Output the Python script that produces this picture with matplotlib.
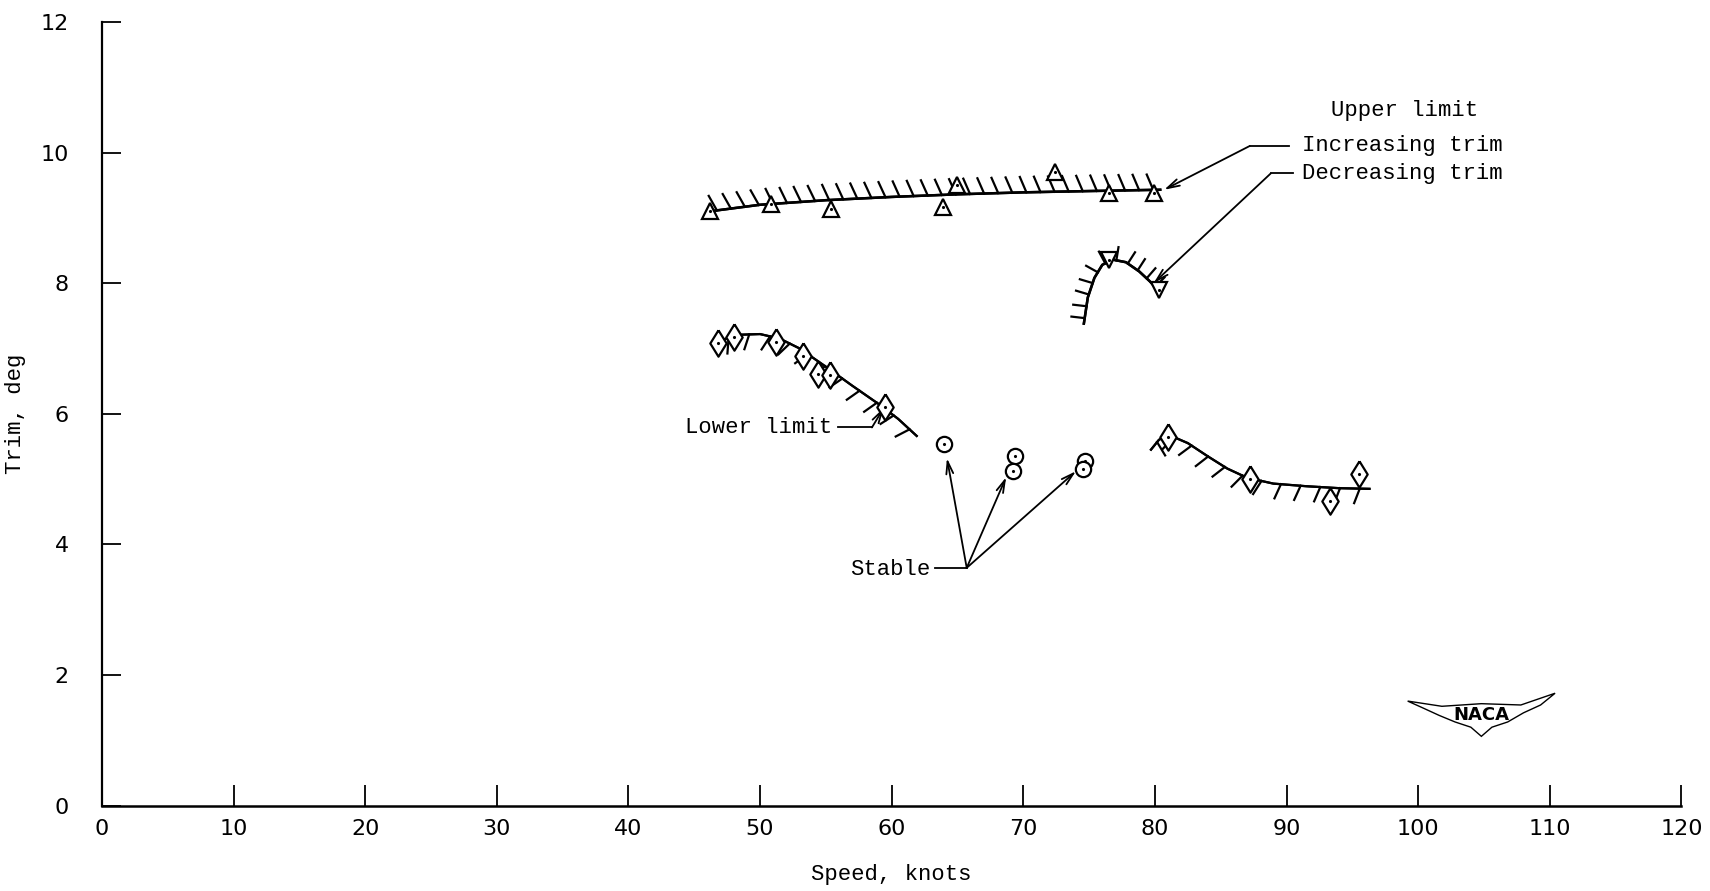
import matplotlib
matplotlib.use('Agg')
import matplotlib.pyplot as plt
from matplotlib import patheffects
from matplotlib.patches import Polygon

plt.rcParams['font.family'] = ['DejaVu Sans']
MONO = 'Liberation Mono'

# upper limit, increasing trim (triangles)
inc_x = [46.2, 50.8, 55.4, 63.9, 65.0, 72.4, 76.5, 79.9]
inc_y = [9.11, 9.21, 9.14, 9.16, 9.51, 9.70, 9.38, 9.38]
inc_curve_x = [46.2, 50, 55, 60, 65, 70, 75, 80.4]
inc_curve_y = [9.10, 9.20, 9.27, 9.32, 9.36, 9.39, 9.41, 9.43]

# upper limit, decreasing trim (inverted triangles)
dec_x = [76.5, 80.3]
dec_y = [8.36, 7.89]
dec_curve_x = [74.6, 74.9, 75.4, 76.0, 76.8, 77.8, 78.8, 79.6, 80.3]
dec_curve_y = [7.38, 7.78, 8.08, 8.28, 8.36, 8.32, 8.18, 8.03, 7.88]

# lower limit (diamonds)
low_x = [46.8, 48.0, 51.2, 53.3, 54.4, 55.3, 59.5, 81.0, 87.2, 93.3, 95.5]
low_y = [7.08, 7.18, 7.10, 6.88, 6.61, 6.59, 6.11, 5.65, 5.00, 4.66, 5.07]
low1_curve_x = [46.9, 48.5, 50.0, 51.5, 53.0, 55.0, 57.0, 59.0, 60.5, 61.9]
low1_curve_y = [7.12, 7.21, 7.22, 7.15, 7.00, 6.72, 6.43, 6.15, 5.92, 5.66]
low2_curve_x = [79.7, 80.3, 81.0, 82.5, 84.0, 85.5, 87.0, 89.0, 91.5, 94.0, 96.3]
low2_curve_y = [5.45, 5.60, 5.68, 5.55, 5.35, 5.16, 5.02, 4.93, 4.89, 4.86, 4.85]

# stable (circles)
stab_x = [64.0, 69.4, 69.2, 74.7, 74.5]
stab_y = [5.54, 5.35, 5.13, 5.27, 5.15]

fig = plt.figure(figsize=(17.1, 8.91), dpi=100)
ax = fig.add_axes([0.0596, 0.0959, 0.9237, 0.8795])

hatch_up = [patheffects.withTickedStroke(angle=112, spacing=10, length=1.2, linewidth=1.6), patheffects.Normal()]
hatch_arc = [patheffects.withTickedStroke(angle=92, spacing=8, length=1.2, linewidth=1.6), patheffects.Normal()]
hatch_dn = [patheffects.withTickedStroke(angle=-110, spacing=14, length=0.8, linewidth=1.6), patheffects.Normal()]

ax.plot(inc_curve_x, inc_curve_y, color='black', linewidth=1.8, path_effects=hatch_up)
ax.plot(dec_curve_x, dec_curve_y, color='black', linewidth=1.8, path_effects=hatch_arc)
ax.plot(low1_curve_x, low1_curve_y, color='black', linewidth=1.6, path_effects=hatch_dn)
ax.plot(low2_curve_x, low2_curve_y, color='black', linewidth=1.6, path_effects=hatch_dn)

diamond = [(0, 1), (0.62, 0), (0, -1), (-0.62, 0), (0, 1)]
mk = dict(linestyle='none', markerfacecolor='white', markeredgecolor='black', markeredgewidth=1.6, zorder=5)
ax.plot(inc_x, inc_y, marker='^', markersize=11, **mk)
ax.plot(dec_x, dec_y, marker='v', markersize=11, **mk)
ax.plot(low_x, low_y, marker=diamond, markersize=19, **mk)
ax.plot(stab_x, stab_y, marker='o', markersize=11, **mk)
allx = inc_x + dec_x + low_x + stab_x
ally = inc_y + dec_y + low_y + stab_y
ax.plot(allx, ally, linestyle='none', marker='.', markersize=2.5, color='black', zorder=6)

arrow = dict(arrowstyle='->,head_length=0.9,head_width=0.25', color='black', linewidth=1.3, shrinkA=0, shrinkB=0)
tfont = dict(family=MONO, fontsize=16)

# annotations
ax.text(99.0, 10.64, 'Upper limit', ha='center', va='center', **tfont)
ax.text(91.2, 10.10, 'Increasing trim', ha='left', va='center', **tfont)
ax.text(91.2, 9.68, 'Decreasing trim', ha='left', va='center', **tfont)
ax.plot([87.2, 90.2], [10.10, 10.10], color='black', linewidth=1.3)
ax.annotate('', xy=(80.7, 9.43), xytext=(87.2, 10.10), arrowprops=arrow)
ax.plot([88.8, 90.5], [9.68, 9.68], color='black', linewidth=1.3)
ax.annotate('', xy=(79.9, 8.0), xytext=(88.8, 9.68), arrowprops=arrow)

ax.text(55.5, 5.79, 'Lower limit', ha='right', va='center', **tfont)
ax.plot([55.9, 58.5], [5.79, 5.79], color='black', linewidth=1.3)
ax.annotate('', xy=(59.4, 6.09), xytext=(58.5, 5.79), arrowprops=arrow)

ax.text(62.9, 3.62, 'Stable', ha='right', va='center', **tfont)
ax.plot([63.3, 65.7], [3.64, 3.64], color='black', linewidth=1.3)
for tx, ty in [(64.2, 5.32), (68.7, 5.03), (74.0, 5.12)]:
    ax.annotate('', xy=(tx, ty), xytext=(65.7, 3.64), arrowprops=arrow)

# NACA logo
cx, cy = 104.8, 1.40
wing = [(-5.6, 0.20), (-3.0, 0.12), (0.0, 0.16), (3.0, 0.14), (5.6, 0.32),
        (4.5, 0.14), (3.2, 0.02), (2.0, -0.12), (0.8, -0.20), (0.0, -0.34),
        (-0.8, -0.20), (-2.0, -0.12), (-3.2, -0.02), (-4.5, 0.10)]
ax.add_patch(Polygon([(cx + a, cy + b) for a, b in wing], closed=True, facecolor='white',
                     edgecolor='black', linewidth=1.0, zorder=4))
ax.text(cx, cy - 0.02, 'NACA', ha='center', va='center', fontsize=13, fontweight='bold', zorder=5)

ax.set_xlim(0, 120)
ax.set_ylim(0, 12)
ax.set_xticks(range(0, 121, 10))
ax.set_yticks(range(0, 13, 2))
ax.spines['top'].set_visible(False)
ax.spines['right'].set_visible(False)
ax.spines['left'].set_linewidth(1.6)
ax.spines['bottom'].set_linewidth(1.8)
ax.tick_params(axis='x', direction='in', length=15, width=1.3, pad=10, labelsize=16)
ax.tick_params(axis='y', direction='in', length=14, width=1.3, pad=24, labelsize=16)
ax.set_xlabel('Speed, knots', labelpad=18, **tfont)
ax.set_ylabel('Trim, deg', labelpad=10, **tfont)

plt.savefig('out.png', dpi=100)
